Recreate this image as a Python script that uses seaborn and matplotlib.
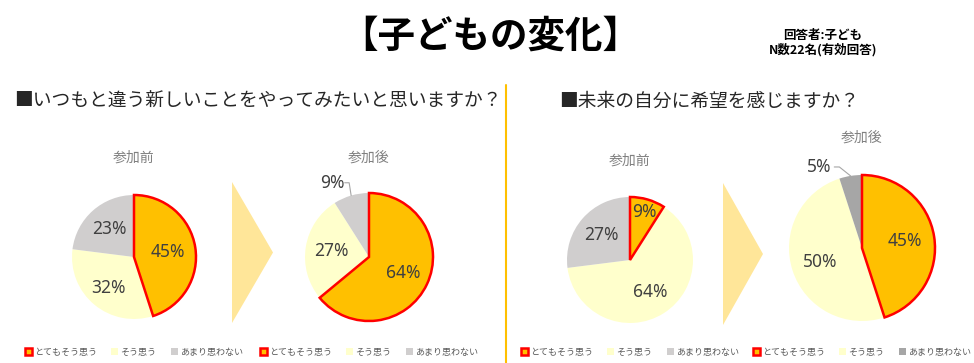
import numpy as np
import matplotlib
matplotlib.use("Agg")
import matplotlib.pyplot as plt
from matplotlib.patches import Polygon
from matplotlib.lines import Line2D
import seaborn as sns

# data
categories = ["とてもそう思う", "そう思う", "あまり思わない"]
q1_before = [45, 32, 23]
q1_after = [64, 27, 9]
q2_before = [9, 64, 27]
q2_after = [45, 50, 5]

title = "【子どもの変化】"
note_lines = ["回答者:子ども", "N数22名(有効回答)"]
q1_title = "■いつもと違う新しいことをやってみたいと思いますか？"
q2_title = "■未来の自分に希望を感じますか？"
before_label = "参加前"
after_label = "参加後"

sns.set_theme(style="white")
plt.rcParams['font.family'] = ['Noto Sans CJK JP', 'DejaVu Sans']

W, H = 974, 363
fig = plt.figure(figsize=(W / 100, H / 100), dpi=100)


def fx(x):
    return x / W


def fy(y):
    return 1 - y / H


orange = "#FFC000"
light_yellow = "#FFFFCC"
red = "#FF0000"
text_dark = "#404040"


def draw_pie(values, cx, cy, r, grey, label_r, outside=None, sub=None, sub_y=None):
    ax = fig.add_axes([fx(cx - r), fy(cy + r), 2 * r / W, 2 * r / H])
    colors = [orange, light_yellow, grey]
    wedges, _ = ax.pie(values, colors=colors, startangle=90, counterclock=False,
                       radius=1, wedgeprops=dict(linewidth=0))
    # pie() widens the limits, pin them back to the wedge radius
    ax.set_xlim(-1, 1)
    ax.set_ylim(-1, 1)
    ax.axis("off")
    wedges[0].set_edgecolor(red)
    wedges[0].set_linewidth(1.8)
    wedges[0].set_zorder(5)
    for i, (w, v) in enumerate(zip(wedges, values)):
        mid = np.deg2rad((w.theta1 + w.theta2) / 2)
        if outside is not None and i == outside[0]:
            lx, ly = outside[1], outside[2]
            ax.text(lx, ly, f"{v}%", ha="center", va="center", fontsize=12.5,
                    color=text_dark, family="Noto Sans", zorder=6)
            ex, ey = np.cos(mid), np.sin(mid)
            ax.plot([lx + 0.2, lx + 0.27, ex], [ly, ly, ey], color="#A6A6A6",
                    lw=0.8, clip_on=False, zorder=6)
        else:
            d = label_r[i]
            ax.text(d * np.cos(mid), d * np.sin(mid), f"{v}%", ha="center", va="center",
                    fontsize=12.5, color=text_dark, family="Noto Sans", zorder=6)
    fig.text(fx(cx), fy(sub_y), sub, ha="center", va="center", fontsize=10,
             color="#808080")
    fig.legend(wedges, categories, ncol=3, loc="center",
               bbox_to_anchor=(fx(cx), fy(352)), frameon=False,
               fontsize=6.5, handlelength=0.75, handleheight=0.75,
               handletextpad=0.25, columnspacing=1.6, borderpad=0,
               labelcolor="#595959")
    return ax


def draw_arrow(x0, x1, y0, y1):
    tri = Polygon([(fx(x0), fy(y0)), (fx(x1), fy((y0 + y1) / 2)), (fx(x0), fy(y1))],
                  closed=True, transform=fig.transFigure, facecolor="#FFE699",
                  edgecolor="none")
    fig.patches.append(tri)


# title and notes
fig.text(fx(490), fy(36), title, ha="center", va="center", fontsize=27,
         fontweight="bold", color="black")
fig.text(fx(823), fy(36), note_lines[0], ha="center", va="center", fontsize=9,
         fontweight="bold", color="black")
fig.text(fx(823), fy(50), note_lines[1], ha="center", va="center", fontsize=9,
         fontweight="bold", color="black")

fig.text(fx(14), fy(101), q1_title, ha="left", va="center", fontsize=13.5, color="#262626")
fig.text(fx(559), fy(101), q2_title, ha="left", va="center", fontsize=13.5, color="#262626")

# divider
fig.add_artist(Line2D([fx(506), fx(506)], [fy(85), fy(363)], color=orange, lw=1.5,
                      transform=fig.transFigure))

# question 1
draw_pie(q1_before, 134, 257, 62, "#D0CECE", [0.55, 0.65, 0.6],
         sub=before_label, sub_y=158)
draw_arrow(232, 273, 182, 323)
draw_pie(q1_after, 369, 257, 64, "#D0CECE", [0.6, 0.6, 0.6],
         outside=(2, -0.58, 1.16), sub=after_label, sub_y=158)

# question 2
draw_pie(q2_before, 630, 260, 63, "#D0CECE", [0.8, 0.6, 0.6],
         sub=before_label, sub_y=161)
draw_arrow(723, 763, 183, 325)
draw_pie(q2_after, 862, 248, 73, "#A6A6A6", [0.6, 0.6, 0.6],
         outside=(2, -0.58, 1.11), sub=after_label, sub_y=138)

fig.savefig("out.png", dpi=100)
